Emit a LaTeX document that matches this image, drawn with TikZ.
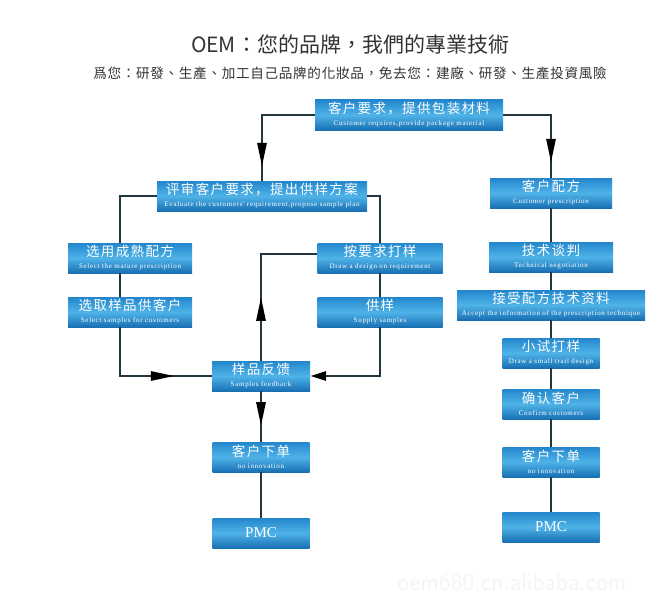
\documentclass[tikz,border=0pt]{standalone}
\usepackage{fontspec}
\setmainfont{Liberation Serif}
\newfontfamily\cn[LetterSpace=10]{Noto Sans CJK SC}
\newfontfamily\tc{Noto Sans CJK TC}
\newfontfamily\tcsp[LetterSpace=5]{Noto Sans CJK TC}
\newfontfamily\ensmall[LetterSpace=10]{Liberation Serif}
\usetikzlibrary{arrows.meta,decorations.markings}
\definecolor{boxtop}{HTML}{2386CC}
\definecolor{boxmid}{HTML}{4FB3E8}
\definecolor{boxbot}{HTML}{1870B3}
\definecolor{linec}{HTML}{22363F}
\definecolor{titlec}{HTML}{333333}
\newcommand{\en}[1]{\\[-2pt]{\ensmall\fontsize{7}{7.5}\selectfont #1}}
\tikzset{
  box/.style={rectangle, inner sep=0pt, minimum height=30pt,
    top color=boxtop, bottom color=boxbot, middle color=boxmid,
    text=white, align=center, font=\cn\fontsize{13.5}{14}\selectfont},
  pmcbox/.style={box, font=\fontsize{15}{15}\selectfont},
  conn/.style={line width=2.8pt, draw=linec},
  midarrow/.style={postaction={decorate}, decoration={markings,
    mark=at position #1 with {\arrow{Triangle[length=24pt,width=9pt,color=black]}}}},
  endarrow/.style={-{Triangle[length=16pt,width=9pt,color=black]}}
}
\begin{document}
\begin{tikzpicture}[x=1pt,y=-1pt]
\useasboundingbox (0,0) rectangle (668,615);
\fill[white] (0,0) rectangle (668,615);
% titles
\node[font=\tc\fontsize{21}{21}\selectfont, text=titlec] (title) at (350,45) {OEM：您的品牌，我們的專業技術};
\node[font=\tcsp\fontsize{13.6}{14}\selectfont, text=titlec] (subtitle) at (350,73) {爲您：研發、生產、加工自己品牌的化妝品，免去您：建廠、研發、生產投資風險};
% boxes
\node[box, minimum width=188pt] (top) at (409,115) {客户要求，提供包装材料\en{Customer requires,provide package material}};
\node[box, minimum width=210pt] (eval) at (262,196) {评审客户要求，提出供样方案\en{Evaluate the customers' requirement,propose sample plan}};
\node[box, minimum width=122pt] (cp) at (551,193) {客户配方\en{Customer prescription}};
\node[box, minimum width=124pt] (mat) at (130,258) {选用成熟配方\en{Select the mature prescription}};
\node[box, minimum width=125pt] (dr) at (380,258) {按要求打样\en{Draw a design on requirement}};
\node[box, minimum width=124pt] (sel) at (130,312) {选取样品供客户\en{Select samples for customers}};
\node[box, minimum width=125pt] (sup) at (380,312) {供样\en{Supply samples}};
\node[box, minimum width=124pt] (tech) at (551,257) {技术谈判\en{Technical negotiation}};
\node[box, minimum width=188pt] (acc) at (551,305) {接受配方技术资料\en{Accept the information of the prescription technique}};
\node[box, minimum width=98pt] (fb) at (261,376) {样品反馈\en{Samples feedback}};
\node[box, minimum width=97pt] (trial) at (551,353) {小试打样\en{Draw a small trail design}};
\node[box, minimum width=97pt] (conf) at (551,404) {确认客户\en{Confirm customers}};
\node[box, minimum width=97pt] (ordR) at (551,462) {客户下单\en{no innovation}};
\node[box, minimum width=97pt] (ordL) at (261,457) {客户下单\en{no innovation}};
\node[pmcbox, minimum width=97pt] (pmcL) at (261,533) {PMC};
\node[pmcbox, minimum width=97pt] (pmcR) at (551,527) {PMC};
% watermark
\node[font=\fontsize{25}{25}\selectfont\sffamily, text=black!4] (wm) at (512,582) {oem680.cn.alibaba.com};
% connectors
\draw[conn, midarrow=-14pt] (top.west) -| (eval.north);
\draw[conn, midarrow=-15pt] (top.east) -| (cp.north);
\draw[conn] (eval.east) -| (dr.north);
\draw[conn] (eval.west) -| ([xshift=-10pt]mat.north);
\draw[conn] ([xshift=-10pt]mat.south) -- ([xshift=-10pt]sel.north);
\draw[conn, midarrow=-37pt] ([xshift=-10pt]sel.south) |- (fb.west);
\draw[conn] (dr.south) -- (sup.north);
\draw[conn, endarrow] (sup.south) |- (fb.east);
\draw[conn, midarrow=64pt] (fb.north) |- ([yshift=4pt]dr.west);
\draw[conn, midarrow=35pt] (fb.south) -- (ordL.north);
\draw[conn] (ordL.south) -- (pmcL.north);
\draw[conn] (cp.south) -- (tech.north);
\draw[conn] (tech.south) -- (acc.north);
\draw[conn] (acc.south) -- (trial.north);
\draw[conn] (trial.south) -- (conf.north);
\draw[conn] (conf.south) -- (ordR.north);
\draw[conn] (ordR.south) -- (pmcR.north);
\end{tikzpicture}
\end{document}
